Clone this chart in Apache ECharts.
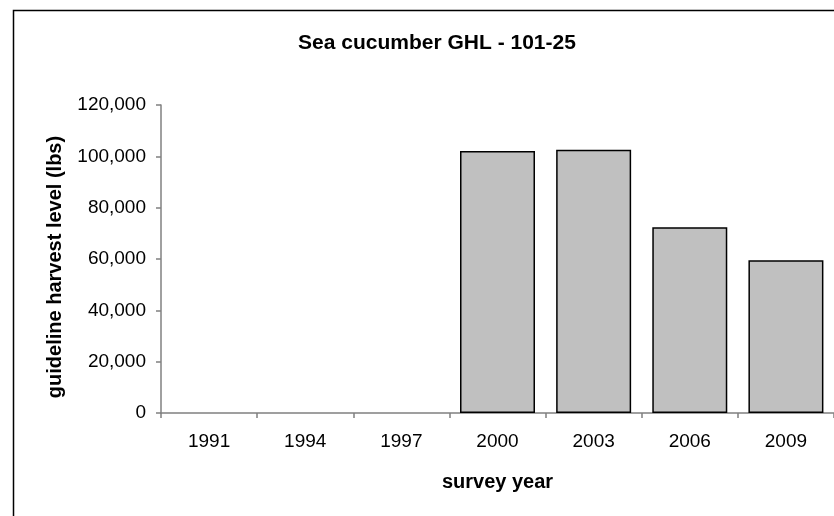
<!DOCTYPE html>
<html>
<head>
<meta charset="utf-8">
<script src="https://cdn.jsdelivr.net/npm/echarts@6/dist/echarts.min.js"></script>
<style>
  html, body { margin: 0; padding: 0; background: #fff; }
  #chart { width: 834px; height: 516px; }
</style>
</head>
<body>
<div id="chart"></div>
<script>
// Survey years on the category axis
const years = ['1991', '1994', '1997', '2000', '2003', '2006', '2009'];
// Guideline harvest level in pounds (no GHL set before 2000)
const ghlLbs = [null, null, null, 102080, 102600, 72340, 59500];
// Value axis range
const yMin = 0;
const yMax = 120000;
const yStep = 20000;

const FONT = '"Liberation Sans", Arial, sans-serif';

const chart = echarts.init(document.getElementById('chart'), null, { renderer: 'canvas' });

chart.setOption({
  backgroundColor: '#ffffff',
  animation: false,
  title: {
    text: 'Sea cucumber GHL - 101-25',
    left: 432,
    top: 28,
    textAlign: 'center',
    textStyle: { fontFamily: FONT, fontSize: 21, fontWeight: 'bold', color: '#000' }
  },
  graphic: [{
    // chart-area frame, running past the right and bottom edges
    type: 'rect',
    shape: { x: 13.5, y: 10.5, width: 900, height: 600 },
    style: { fill: 'none', stroke: '#000', lineWidth: 1.5 },
    z: 0
  }],
  grid: { left: 161, right: -1, top: 105, bottom: 103, containLabel: false },
  xAxis: {
    type: 'category',
    data: years,
    name: 'survey year',
    nameLocation: 'middle',
    nameGap: 59,
    nameTextStyle: { fontFamily: FONT, fontSize: 20, fontWeight: 'bold', color: '#000' },
    axisLine: { lineStyle: { color: '#808080', width: 1.5 } },
    axisTick: { show: true, alignWithLabel: false, length: 5, lineStyle: { color: '#808080', width: 1.5 } },
    axisLabel: { margin: 19, fontFamily: FONT, fontSize: 19, color: '#000' },
    splitLine: { show: false }
  },
  yAxis: {
    type: 'value',
    min: yMin,
    max: yMax,
    interval: yStep,
    name: 'guideline harvest level (lbs)',
    nameLocation: 'middle',
    nameGap: 96,
    nameTextStyle: { fontFamily: FONT, fontSize: 20, fontWeight: 'bold', color: '#000', padding: [0, 16, 0, 0] },
    axisLine: { show: true, lineStyle: { color: '#808080', width: 1.5 } },
    axisTick: { show: true, length: 5, lineStyle: { color: '#808080', width: 1.5 } },
    axisLabel: {
      margin: 15,
      fontFamily: FONT,
      fontSize: 19,
      color: '#000',
      formatter: v => v.toLocaleString('en-US')
    },
    splitLine: { show: false }
  },
  series: [{
    type: 'bar',
    data: ghlLbs,
    barCategoryGap: '22%',
    itemStyle: { color: '#c0c0c0', borderColor: '#000', borderWidth: 1.5 }
  }]
});
</script>
</body>
</html>
